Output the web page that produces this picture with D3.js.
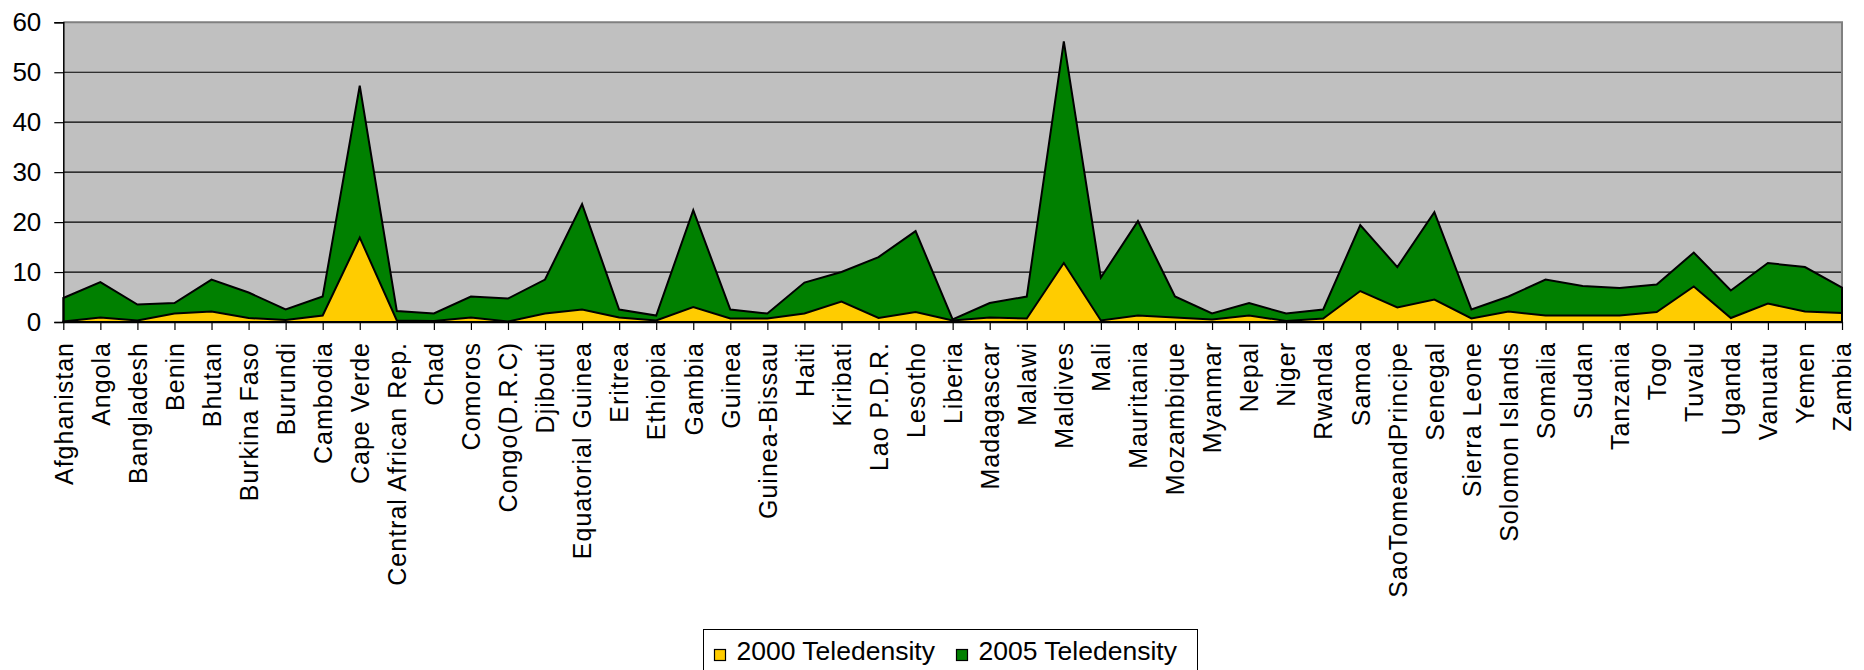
<!DOCTYPE html>
<html>
<head>
<meta charset="utf-8">
<script src="https://cdn.jsdelivr.net/npm/d3@7"></script>
<style>
  body { margin: 0; background: #fff; }
  text { font-family: Arial, "Liberation Sans", sans-serif; fill: #000; }
</style>
</head>
<body>
<div id="chart"></div>
<script>
var countries = ["Afghanistan", "Angola", "Bangladesh", "Benin", "Bhutan", "Burkina Faso", "Burundi",
  "Cambodia", "Cape Verde", "Central African Rep.", "Chad", "Comoros", "Congo(D.R.C)", "Djibouti",
  "Equatorial Guinea", "Eritrea", "Ethiopia", "Gambia", "Guinea", "Guinea-Bissau", "Haiti", "Kiribati",
  "Lao P.D.R.", "Lesotho", "Liberia", "Madagascar", "Malawi", "Maldives", "Mali", "Mauritania",
  "Mozambique", "Myanmar", "Nepal", "Niger", "Rwanda", "Samoa", "SaoTomeandPrincipe", "Senegal",
  "Sierra Leone", "Solomon Islands", "Somalia", "Sudan", "Tanzania", "Togo", "Tuvalu", "Uganda",
  "Vanuatu", "Yemen", "Zambia"];

var tele2000 = [0.1, 0.9, 0.3, 1.7, 2.1, 0.8, 0.4, 1.3, 16.9, 0.3, 0.2, 0.9, 0.1, 1.7, 2.5, 0.9, 0.3,
  3.0, 0.7, 0.7, 1.7, 4.1, 0.8, 2.0, 0.3, 0.9, 0.7, 11.8, 0.3, 1.3, 0.9, 0.5, 1.3, 0.2, 0.7, 6.2,
  2.9, 4.5, 0.7, 2.1, 1.3, 1.3, 1.3, 2.0, 7.1, 0.8, 3.7, 2.1, 1.8];

var tele2005 = [4.8, 8.0, 3.5, 3.8, 8.5, 5.9, 2.5, 5.1, 47.3, 2.2, 1.7, 5.1, 4.7, 8.5, 23.6, 2.5, 1.3,
  22.4, 2.5, 1.7, 7.9, 10.0, 13.0, 18.2, 0.5, 3.8, 5.1, 56.2, 8.9, 20.2, 5.1, 1.7, 3.8, 1.7, 2.5, 19.4,
  11.0, 22.0, 2.5, 5.1, 8.5, 7.2, 6.8, 7.5, 13.9, 6.3, 11.8, 11.0, 6.9];

var yTicks = [0, 10, 20, 30, 40, 50, 60];
var seriesNames = ["2000 Teledensity", "2005 Teledensity"];
var seriesColors = ["#FFCC00", "#008000"];

var margin = {top: 22.3, right: 22, bottom: 348, left: 63.3};
var width = 1864 - margin.left - margin.right;
var height = 670 - margin.top - margin.bottom;

var svg = d3.select("#chart")
  .append("svg")
    .attr("width", 1864)
    .attr("height", 670)
  .append("g")
    .attr("transform", "translate(" + margin.left + "," + margin.top + ")");

var x = d3.scalePoint()
  .domain(countries)
  .range([0, width]);

var y = d3.scaleLinear()
  .domain([0, 60])
  .range([height, 0]);

// plot background
svg.append("rect")
  .attr("width", width)
  .attr("height", height)
  .attr("fill", "#C0C0C0");

// gridlines
svg.append("g")
  .selectAll("line")
  .data(yTicks.slice(1, -1))
  .enter()
  .append("line")
    .attr("x1", 0)
    .attr("x2", width)
    .attr("y1", function(d) { return y(d) })
    .attr("y2", function(d) { return y(d) })
    .attr("stroke", "#000")
    .attr("stroke-width", 1.2);

// top and right frame
svg.append("path")
  .attr("d", "M0," + y(60) + "H" + width + "V" + height)
  .attr("fill", "none")
  .attr("stroke", "#808080")
  .attr("stroke-width", 2);

var area = function(vals) {
  return d3.area()
    .x(function(d, i) { return x(countries[i]) })
    .y0(y(0))
    .y1(function(d) { return y(d) })(vals);
}

svg.append("path")
  .attr("d", area(tele2005))
  .attr("fill", seriesColors[1])
  .attr("stroke", "#000")
  .attr("stroke-width", 2)
  .attr("stroke-linejoin", "miter");

svg.append("path")
  .attr("d", area(tele2000))
  .attr("fill", seriesColors[0])
  .attr("stroke", "#000")
  .attr("stroke-width", 2)
  .attr("stroke-linejoin", "miter");

// y axis
var yAxis = svg.append("g")
  .call(d3.axisLeft(y).tickValues(yTicks).tickSize(9).tickPadding(13).tickFormat(d3.format("d")));
yAxis.select(".domain").attr("stroke", "#000").attr("stroke-width", 1.5);
yAxis.selectAll(".tick line").attr("stroke", "#000").attr("stroke-width", 1.2);
yAxis.selectAll("text")
  .style("font-size", "26px")
  .style("font-family", "Arial, 'Liberation Sans', sans-serif");

// x axis
var xAxis = svg.append("g")
  .attr("transform", "translate(0," + height + ")")
  .call(d3.axisBottom(x).tickSize(8).tickSizeOuter(0));
xAxis.select(".domain").attr("stroke", "#000").attr("stroke-width", 1.5);
xAxis.selectAll(".tick line").attr("stroke", "#000").attr("stroke-width", 1.2);
xAxis.selectAll("text")
  .attr("transform", "rotate(-90)")
  .attr("x", -20)
  .attr("y", 0)
  .attr("dy", "0.35em")
  .style("text-anchor", "end")
  .style("font-size", "25px")
  .style("letter-spacing", "1px")
  .style("font-family", "Arial, 'Liberation Sans', sans-serif");

// legend
var legend = d3.select("svg").append("g")
  .attr("transform", "translate(703.5,629.5)");

legend.append("rect")
  .attr("width", 494)
  .attr("height", 50)
  .attr("fill", "#fff")
  .attr("stroke", "#000")
  .attr("stroke-width", 1);

var legendX = [11, 253];
seriesNames.forEach(function(name, i) {
  legend.append("rect")
    .attr("x", legendX[i])
    .attr("y", 20)
    .attr("width", 11)
    .attr("height", 11)
    .attr("fill", seriesColors[i])
    .attr("stroke", "#000")
    .attr("stroke-width", 1.2);
  legend.append("text")
    .attr("x", legendX[i] + 22)
    .attr("y", 30)
    .style("font-size", "26.5px")
    .text(name);
});
</script>
</body>
</html>
